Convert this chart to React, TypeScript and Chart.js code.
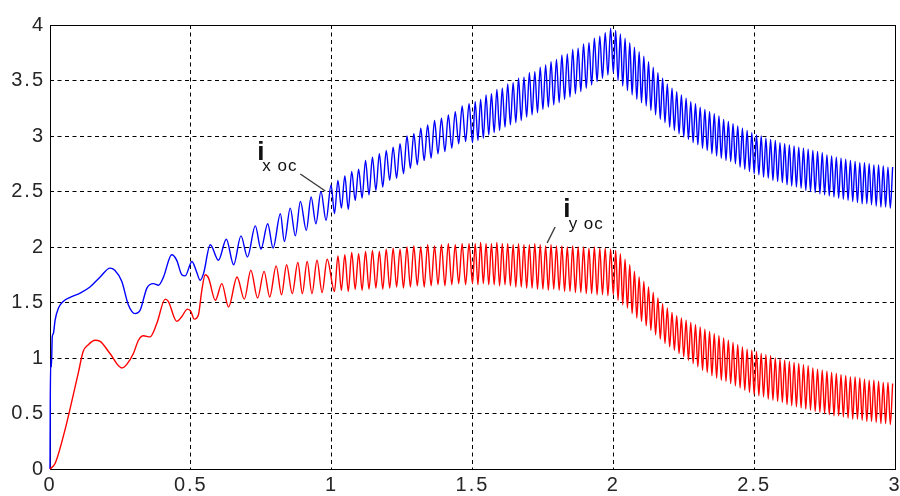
import React, { useEffect, useRef } from 'react';
import { Chart, registerables } from 'chart.js';

Chart.register(...registerables);

// ---- axis ticks ----
const xTickValues = [0, 0.5, 1, 1.5, 2, 2.5, 3];
const xTickLabels = ['0', '0.5', '1', '1.5', '2', '2.5', '3'];
const yTickValues = [0, 0.5, 1, 1.5, 2, 2.5, 3, 3.5, 4];
const yTickLabels = ['0', '0.5', '1', '1.5', '2', '2.5', '3', '3.5', '4'];

// ---- i_x oc : start-up transient (t, value) ----
const blueEarlyT = [0, 0.001, 0.003, 0.005, 0.008, 0.012, 0.018, 0.03, 0.047, 0.075, 0.107, 0.142, 0.178, 0.213, 0.23, 0.255, 0.278, 0.302, 0.32, 0.344, 0.367, 0.385, 0.403, 0.432, 0.45, 0.468, 0.48, 0.504, 0.52, 0.533, 0.545, 0.569, 0.598, 0.626, 0.652, 0.678, 0.701, 0.729, 0.749, 0.773, 0.792, 0.818, 0.832, 0.853, 0.871, 0.889, 0.91, 0.927, 0.944, 0.962, 0.98, 0.998];
const blueEarlyY = [0, 0.62, 0.99, 0.92, 1.19, 1.22, 1.34, 1.45, 1.51, 1.55, 1.585, 1.64, 1.73, 1.81, 1.79, 1.69, 1.48, 1.40, 1.43, 1.63, 1.67, 1.655, 1.73, 1.93, 1.88, 1.75, 1.74, 1.87, 1.78, 1.70, 1.76, 2.02, 1.88, 2.07, 1.84, 2.10, 1.91, 2.19, 1.98, 2.21, 1.99, 2.30, 2.05, 2.35, 2.10, 2.41, 2.15, 2.45, 2.21, 2.50, 2.24, 2.56];

// ---- i_y oc : start-up transient (t, value) ----
const redEarlyT = [0, 0.018, 0.053, 0.081, 0.1, 0.118, 0.136, 0.16, 0.178, 0.213, 0.255, 0.272, 0.296, 0.314, 0.332, 0.355, 0.379, 0.409, 0.42, 0.45, 0.467, 0.488, 0.5, 0.512, 0.527, 0.539, 0.551, 0.563, 0.587, 0.61, 0.634, 0.664, 0.69, 0.713, 0.737, 0.76, 0.78, 0.803, 0.822, 0.84, 0.86, 0.88, 0.896, 0.913, 0.93, 0.948, 0.966, 0.984];
const redEarlyY = [0, 0.05, 0.35, 0.65, 0.86, 1.06, 1.12, 1.16, 1.15, 1.04, 0.91, 0.94, 1.04, 1.16, 1.20, 1.19, 1.31, 1.53, 1.51, 1.33, 1.37, 1.44, 1.42, 1.35, 1.39, 1.61, 1.75, 1.72, 1.52, 1.67, 1.46, 1.73, 1.53, 1.79, 1.54, 1.78, 1.55, 1.83, 1.57, 1.84, 1.58, 1.86, 1.58, 1.87, 1.58, 1.88, 1.59, 1.89];

// ---- ripple segments: troughs / peaks of each cycle, spread evenly over the span ----
const segASpan = [1.01, 1.5];
const blueATroughs = [2.30, 2.35, 2.34, 2.42, 2.44, 2.47, 2.51, 2.54, 2.60, 2.62, 2.66, 2.71, 2.74, 2.78, 2.80, 2.84, 2.86, 2.89, 2.93, 2.95];
const blueAPeaks = [2.60, 2.64, 2.68, 2.70, 2.78, 2.81, 2.84, 2.87, 2.90, 2.93, 3.00, 3.02, 3.07, 3.10, 3.14, 3.16, 3.19, 3.22, 3.27, 3.29];
const redATroughs = [1.60, 1.61, 1.60, 1.62, 1.61, 1.62, 1.63, 1.62, 1.63, 1.64, 1.63, 1.64, 1.65, 1.64, 1.65, 1.66, 1.65, 1.66, 1.67, 1.66];
const redAPeaks = [1.92, 1.93, 1.95, 1.94, 1.96, 1.97, 1.96, 1.98, 1.99, 1.98, 2.00, 2.01, 2.00, 2.02, 2.01, 2.02, 2.03, 2.02, 2.03, 2.03];

const segBSpan = [1.5, 2.0];
const blueBTroughs = [2.94, 2.96, 2.98, 3.01, 3.03, 3.05, 3.08, 3.10, 3.12, 3.14, 3.17, 3.19, 3.21, 3.24, 3.26, 3.28, 3.30, 3.33, 3.35, 3.38, 3.40, 3.43, 3.46, 3.49, 3.52, 3.55];
const blueBPeaks = [3.31, 3.33, 3.37, 3.38, 3.42, 3.43, 3.47, 3.48, 3.52, 3.53, 3.57, 3.58, 3.62, 3.64, 3.67, 3.69, 3.73, 3.74, 3.78, 3.79, 3.83, 3.84, 3.88, 3.90, 3.93, 3.97];
const redBTroughs = [1.67, 1.66, 1.67, 1.66, 1.66, 1.65, 1.66, 1.65, 1.64, 1.64, 1.63, 1.63, 1.62, 1.62, 1.61, 1.62, 1.61, 1.60, 1.60, 1.59, 1.59, 1.58, 1.58, 1.57, 1.57, 1.56];
const redBPeaks = [2.03, 2.04, 2.03, 2.03, 2.04, 2.03, 2.03, 2.02, 2.03, 2.02, 2.02, 2.03, 2.02, 2.01, 2.02, 2.01, 2.01, 2.00, 2.01, 2.00, 2.00, 1.99, 2.00, 1.99, 1.99, 1.98];

const segCSpan = [2.0, 3.0];
const blueCTroughs = [3.57, 3.50, 3.45, 3.41, 3.37, 3.33, 3.30, 3.27, 3.23, 3.19, 3.15, 3.12, 3.08, 3.05, 3.02, 2.99, 2.97, 2.94, 2.92, 2.89, 2.87, 2.84, 2.82, 2.80, 2.78, 2.77, 2.75, 2.72, 2.70, 2.68, 2.66, 2.65, 2.63, 2.62, 2.60, 2.59, 2.58, 2.56, 2.55, 2.54, 2.53, 2.51, 2.50, 2.49, 2.48, 2.47, 2.46, 2.45, 2.44, 2.43, 2.42, 2.41, 2.40, 2.39, 2.39, 2.38, 2.37, 2.36, 2.36, 2.35];
const blueCPeaks = [3.95, 3.92, 3.88, 3.84, 3.80, 3.76, 3.72, 3.67, 3.62, 3.57, 3.52, 3.47, 3.43, 3.40, 3.37, 3.34, 3.31, 3.29, 3.26, 3.24, 3.22, 3.20, 3.18, 3.15, 3.13, 3.11, 3.09, 3.07, 3.05, 3.03, 3.01, 3.00, 2.98, 2.97, 2.96, 2.94, 2.93, 2.92, 2.91, 2.90, 2.89, 2.88, 2.87, 2.86, 2.85, 2.83, 2.82, 2.81, 2.80, 2.79, 2.78, 2.77, 2.76, 2.76, 2.75, 2.74, 2.74, 2.73, 2.72, 2.72];
const redCTroughs = [1.57, 1.52, 1.48, 1.45, 1.40, 1.36, 1.33, 1.29, 1.25, 1.21, 1.17, 1.13, 1.10, 1.07, 1.04, 1.01, 0.98, 0.95, 0.92, 0.89, 0.87, 0.84, 0.82, 0.80, 0.79, 0.77, 0.75, 0.73, 0.71, 0.69, 0.67, 0.66, 0.65, 0.63, 0.62, 0.61, 0.60, 0.58, 0.57, 0.56, 0.55, 0.54, 0.53, 0.52, 0.51, 0.50, 0.49, 0.48, 0.48, 0.47, 0.46, 0.45, 0.45, 0.44, 0.43, 0.43, 0.42, 0.41, 0.41, 0.40];
const redCPeaks = [1.97, 1.94, 1.89, 1.84, 1.78, 1.73, 1.69, 1.64, 1.59, 1.54, 1.49, 1.45, 1.41, 1.38, 1.36, 1.34, 1.32, 1.30, 1.28, 1.26, 1.24, 1.22, 1.20, 1.18, 1.16, 1.14, 1.12, 1.10, 1.08, 1.07, 1.06, 1.04, 1.03, 1.02, 1.00, 0.99, 0.98, 0.97, 0.96, 0.95, 0.94, 0.93, 0.91, 0.90, 0.89, 0.88, 0.87, 0.86, 0.85, 0.84, 0.83, 0.83, 0.82, 0.81, 0.80, 0.80, 0.79, 0.78, 0.78, 0.77];

// ---- annotation anchors (data units) ----
const xocLabel = { x: 0.7358, y: 2.788, subX: 0.7536, subY: 2.687, text: 'i', sub: 'x oc' };
const xocLeader = [[0.8887, 2.6577], [0.9775, 2.5045]];
const yocLabel = { x: 1.8224, y: 2.266, subX: 1.8413, subY: 2.159, text: 'i', sub: 'y oc' };
const yocLeader = [[1.7933, 2.1802], [1.7649, 2.036]];

type Pt = { x: number; y: number };

function pairs(ts: number[], ys: number[]): Pt[] {
  const n = Math.min(ts.length, ys.length);
  const out: Pt[] = [];
  for (let i = 0; i < n; i++) out.push({ x: ts[i], y: ys[i] });
  return out;
}

function ripple(span: number[], troughs: number[], peaks: number[]): Pt[] {
  const n = Math.min(troughs.length, peaks.length);
  const h = (span[1] - span[0]) / (2 * n);
  const out: Pt[] = [];
  for (let i = 0; i < n; i++) {
    out.push({ x: span[0] + 2 * i * h, y: troughs[i] });
    out.push({ x: span[0] + (2 * i + 1) * h, y: peaks[i] });
  }
  return out;
}

const blueData = [
  ...pairs(blueEarlyT, blueEarlyY),
  ...ripple(segASpan, blueATroughs, blueAPeaks),
  ...ripple(segBSpan, blueBTroughs, blueBPeaks),
  ...ripple(segCSpan, blueCTroughs, blueCPeaks),
];
const redData = [
  ...pairs(redEarlyT, redEarlyY),
  ...ripple(segASpan, redATroughs, redAPeaks),
  ...ripple(segBSpan, redBTroughs, redBPeaks),
  ...ripple(segCSpan, redCTroughs, redCPeaks),
];

const TICK_FONT = { family: '"Liberation Sans", Arial, sans-serif', size: 20 };

const framePlugin = {
  id: 'frameAndNotes',
  beforeDraw(chart: any) {
    (chart.ctx as any).letterSpacing = '2px';
  },
  beforeDatasetsDraw(chart: any) {
    const { ctx, chartArea } = chart;
    ctx.save();
    ctx.strokeStyle = '#000';
    ctx.lineWidth = 1;
    ctx.setLineDash([]);
    ctx.strokeRect(chartArea.left + 0.5, chartArea.top + 0.5, chartArea.right - chartArea.left, chartArea.bottom - chartArea.top);
    ctx.restore();
  },
  afterDatasetsDraw(chart: any) {
    const { ctx, scales } = chart;
    const xs = scales.x;
    const ys = scales.y;
    ctx.save();
    (ctx as any).letterSpacing = '0px';
    ctx.setLineDash([]);
    // leader lines
    ctx.strokeStyle = '#3a3a3a';
    ctx.lineWidth = 1.4;
    for (const ld of [xocLeader, yocLeader]) {
      ctx.beginPath();
      ctx.moveTo(xs.getPixelForValue(ld[0][0]), ys.getPixelForValue(ld[0][1]));
      ctx.lineTo(xs.getPixelForValue(ld[1][0]), ys.getPixelForValue(ld[1][1]));
      ctx.stroke();
    }

    // labels
    ctx.fillStyle = '#111';
    ctx.textAlign = 'left';
    ctx.textBaseline = 'alphabetic';
    for (const lb of [xocLabel, yocLabel]) {
      ctx.font = 'bold 26px "Liberation Sans", Arial, sans-serif';
      ctx.fillText(lb.text, xs.getPixelForValue(lb.x), ys.getPixelForValue(lb.y));
      ctx.font = '17px "Liberation Sans", Arial, sans-serif';
      (ctx as any).letterSpacing = '1px';
      ctx.fillText(lb.sub, xs.getPixelForValue(lb.subX), ys.getPixelForValue(lb.subY));
      (ctx as any).letterSpacing = '0px';
    }
    ctx.restore();
  },
};

export default function App() {
  const ref = useRef<HTMLCanvasElement | null>(null);

  useEffect(() => {
    if (!ref.current) return;
    const chart = new Chart(ref.current, {
      type: 'line',
      data: {
        datasets: [
          {
            label: 'i_y oc',
            data: redData,
            borderColor: '#ff0000',
            borderWidth: 1.4,
            pointRadius: 0,
            fill: false,
            clip: false,
            cubicInterpolationMode: 'monotone',
          },
          {
            label: 'i_x oc',
            data: blueData,
            borderColor: '#0000ff',
            borderWidth: 1.4,
            pointRadius: 0,
            fill: false,
            clip: false,
            cubicInterpolationMode: 'monotone',
          },
        ],
      },
      options: {
        animation: false,
        responsive: false,
        devicePixelRatio: 1,
        parsing: false,
        normalized: true,
        layout: { padding: { top: 25, right: 5, left: 0, bottom: 0 } },
        plugins: { legend: { display: false }, tooltip: { enabled: false } },
        scales: {
          x: {
            type: 'linear',
            min: 0,
            max: 3,
            afterBuildTicks: (s: any) => {
              s.ticks = xTickValues.map((v) => ({ value: v }));
            },
            afterFit: (s: any) => {
              s.height = 27;
              s.paddingLeft = 0;
              s.paddingRight = 0;
            },
            ticks: {
              autoSkip: false,
              maxRotation: 0,
              padding: 4,
              color: '#262626',
              font: TICK_FONT,
              callback: (_v: any, i: number) => xTickLabels[i],
            },
            grid: { color: '#000', lineWidth: 1, drawTicks: false },
            border: { display: false, dash: [4, 3.5] },
          },
          y: {
            type: 'linear',
            min: 0,
            max: 4,
            afterBuildTicks: (s: any) => {
              s.ticks = yTickValues.map((v) => ({ value: v }));
            },
            afterFit: (s: any) => {
              s.width = 50;
              s.paddingTop = 0;
              s.paddingBottom = 0;
            },
            ticks: {
              autoSkip: false,
              padding: 5,
              color: '#262626',
              font: TICK_FONT,
              callback: (_v: any, i: number) => yTickLabels[i],
            },
            grid: { color: '#000', lineWidth: 1, drawTicks: false },
            border: { display: false, dash: [4, 3.5] },
          },
        },
      },
      plugins: [framePlugin],
    });
    return () => chart.destroy();
  }, []);

  return (
    <div style={{ position: 'absolute', left: 0, top: 0, width: 900, height: 496, background: '#fff' }}>
      <canvas ref={ref} width={900} height={496} style={{ display: 'block' }} />
    </div>
  );
}
